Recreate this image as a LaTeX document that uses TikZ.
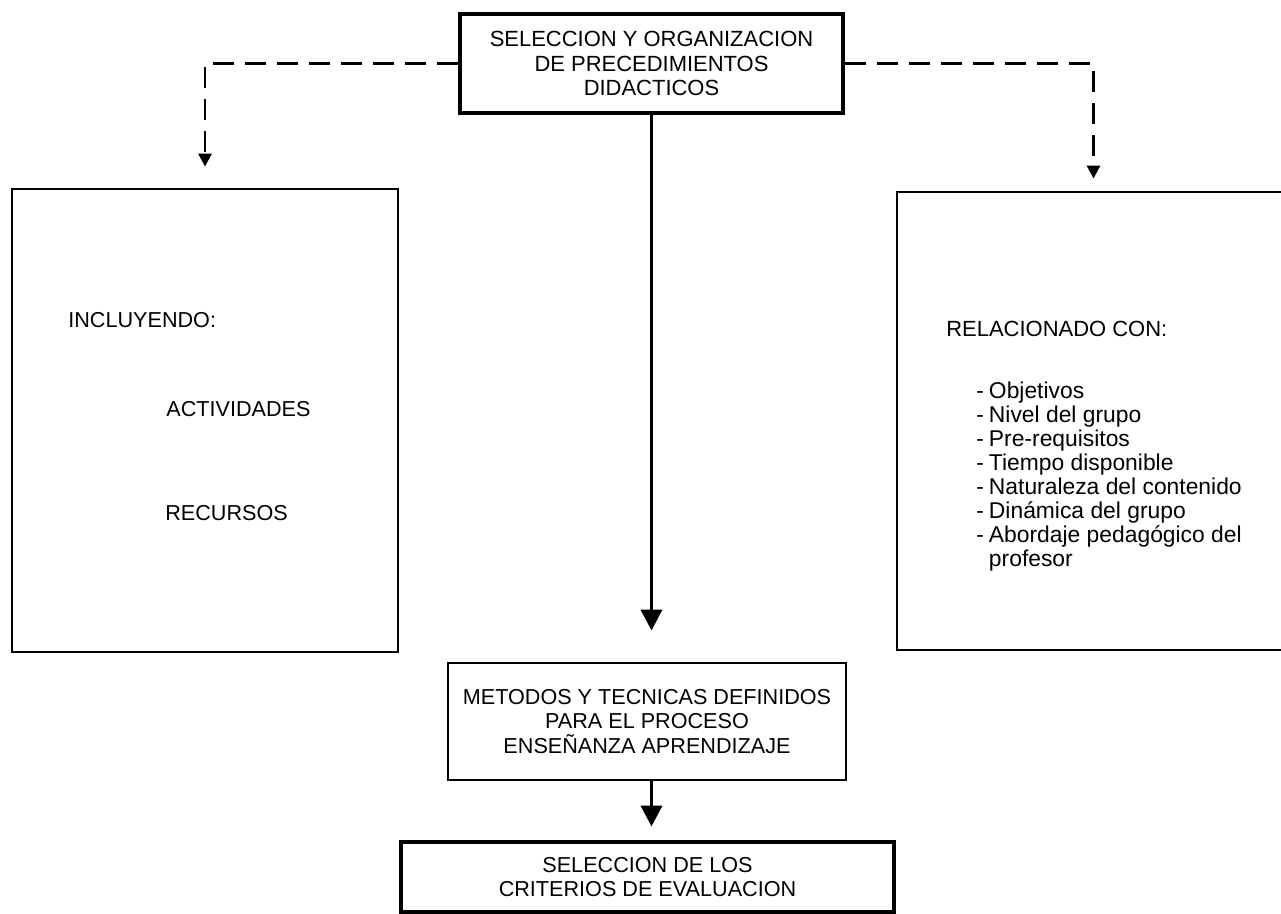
\documentclass[tikz,border=0pt]{standalone}
\usepackage{fontspec}
\setmainfont{Liberation Sans}
\usetikzlibrary{positioning, calc, arrows.meta}

\begin{document}
\begin{tikzpicture}[>=Triangle,
    box/.style={draw, line width=1.6pt, align=center, inner sep=0pt},
    label/.style={anchor=west, inner sep=0pt},
    mainflow/.style={-{Triangle[length=0.42cm, width=0.42cm]}, line width=2.2pt},
    sideflow/.style={-{Triangle[length=0.26cm, width=0.26cm]}, line width=1.6pt, dash pattern=on 0.42cm off 0.22cm},
    every node/.style={font=\fontsize{12.3}{13.7}\selectfont}]

    \useasboundingbox (0,0) rectangle (25.62,18.28);

    % ================= Top box =================
    \node[box, line width=2.4pt, minimum width=7.66cm, minimum height=1.98cm,
          font=\fontsize{12.5}{13.8}\selectfont] (seleccion) at (13.03,17.01)
        {SELECCION Y ORGANIZACION\\DE PRECEDIMIENTOS\\DIDACTICOS};

    % ================= Side boxes =================
    \node[box, minimum width=7.72cm, minimum height=9.26cm] (incluyendo) at (4.1,9.87) {};
    \node[label] (incl) at (1.36,11.88) {INCLUYENDO:};
    \node[label] (activ) at (3.32,10.1) {ACTIVIDADES};
    \node[label] (recur) at (3.3,8.02) {RECURSOS};

    \node[box, minimum width=7.86cm, minimum height=9.16cm] (relacionado) at (21.87,9.86) {};
    \node[label, font=\fontsize{12.5}{14}\selectfont] (relcon) at (18.92,11.7) {RELACIONADO CON:};
    \node[anchor=north west, align=left, inner sep=0pt, font=\fontsize{13}{13.6}\selectfont] (factores) at (19.52,10.64)
        {-\kern0.22em Objetivos\\
         -\kern0.22em Nivel del grupo\\
         -\kern0.22em Pre-requisitos\\
         -\kern0.22em Tiempo disponible\\
         -\kern0.22em Naturaleza del contenido\\
         -\kern0.22em Dinámica del grupo\\
         -\kern0.22em Abordaje pedagógico del\\
         \phantom{-\kern0.22em}profesor};

    % ================= Lower boxes =================
    \node[box, minimum width=7.96cm, minimum height=2.34cm] (metodos) at (12.94,3.85)
        {METODOS Y TECNICAS DEFINIDOS\\PARA EL PROCESO\\ENSEÑANZA APRENDIZAJE};
    \node[box, line width=2.8pt, minimum width=9.86cm, minimum height=1.4cm] (criterios) at (12.95,0.74)
        {SELECCION DE LOS\\CRITERIOS DE EVALUACION};

    % ================= Connectors =================
    \draw[sideflow, shorten >=0.42cm] (seleccion.west) -| (incluyendo.north);
    \draw[sideflow, shorten >=0.24cm] (seleccion.east) -| (relacionado.north);

    \draw[mainflow, shorten >=0.62cm] (seleccion.south) -- (seleccion.south |- metodos.north);
    \draw[mainflow, shorten >=0.26cm] (seleccion.south |- metodos.south) -- (seleccion.south |- criterios.north);

\end{tikzpicture}
\end{document}
